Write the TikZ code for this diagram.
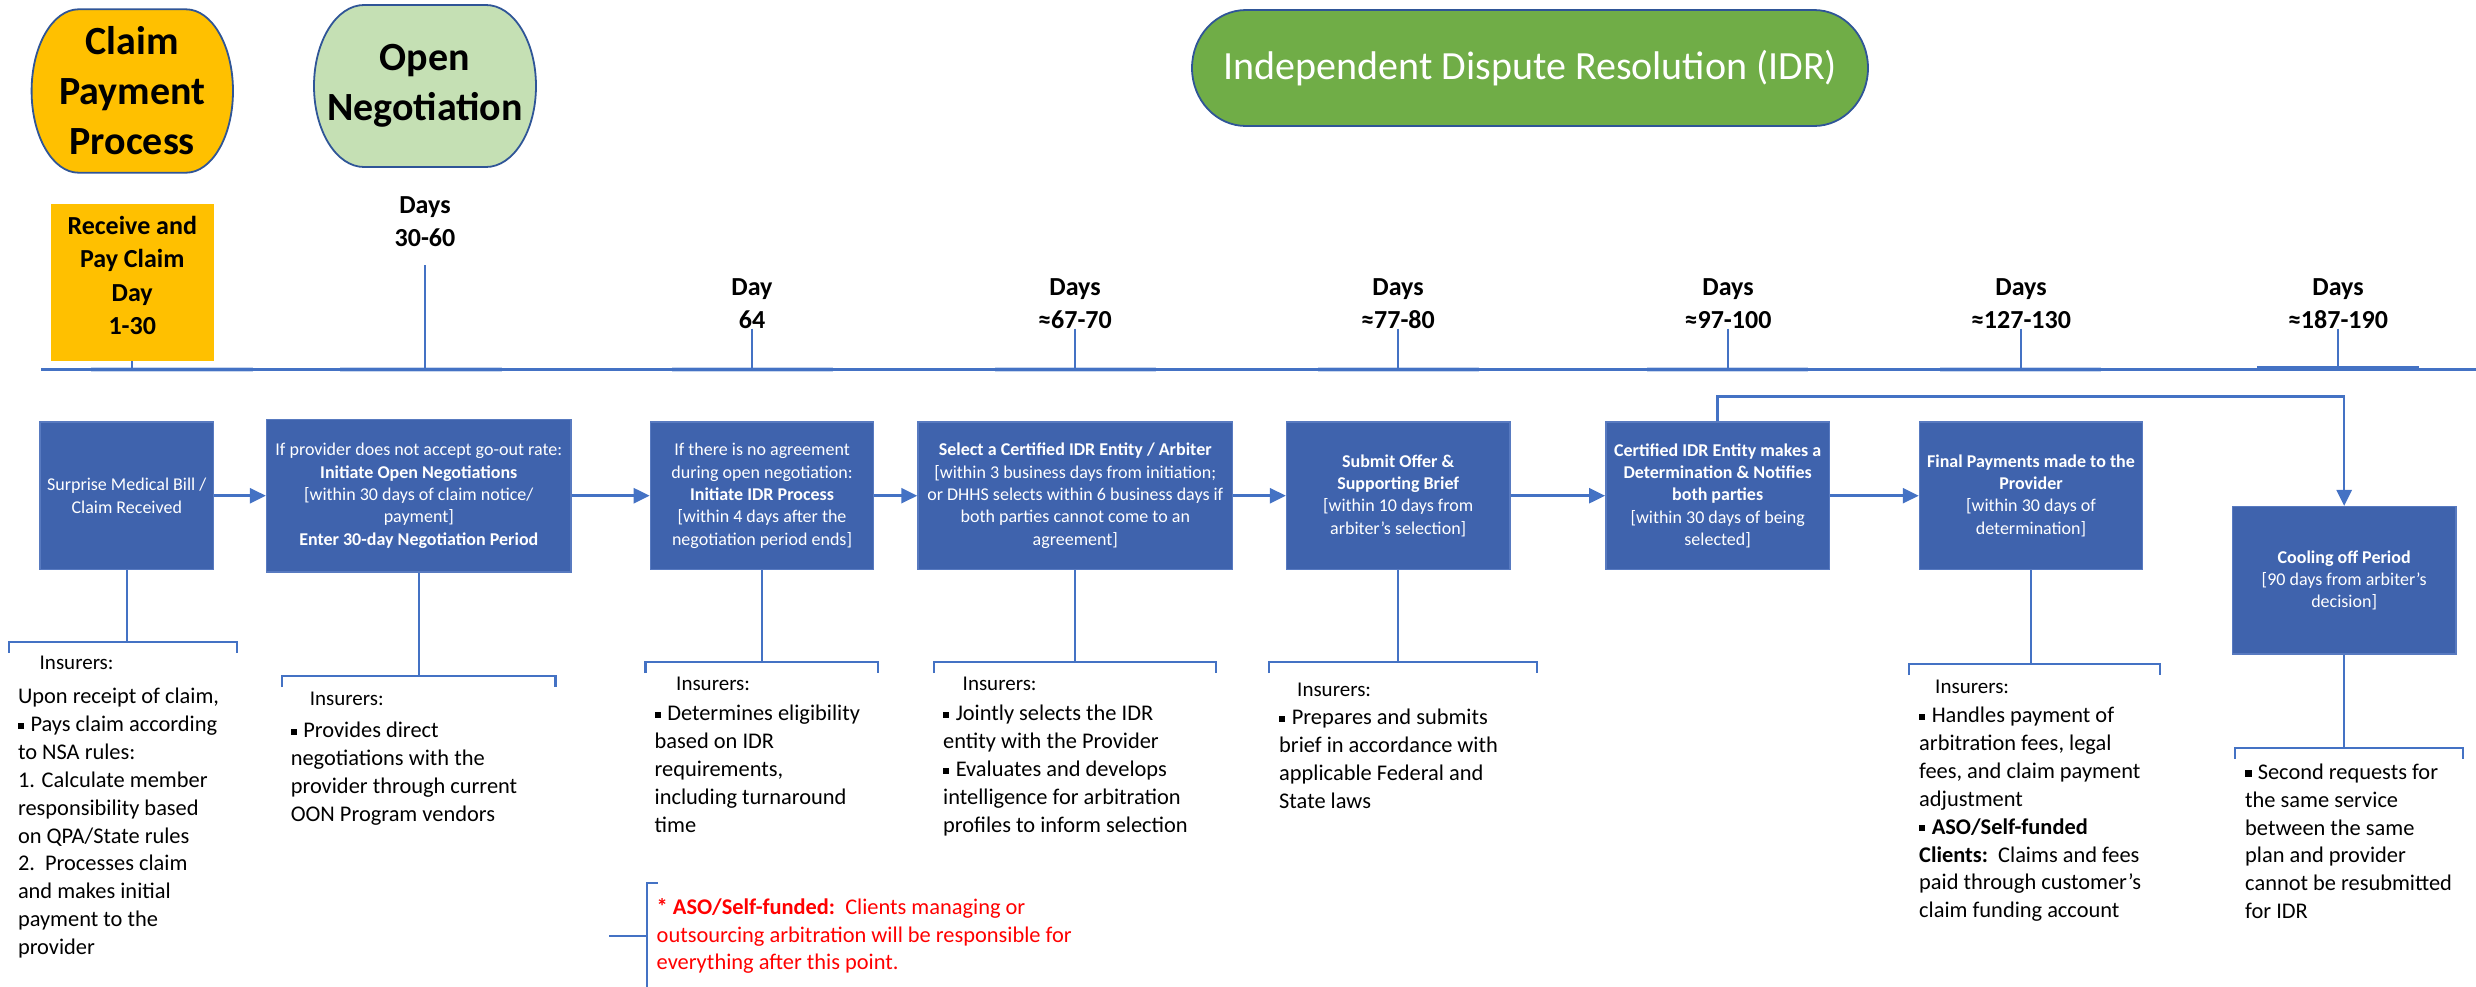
\documentclass[tikz,border=0pt]{standalone}
\usepackage{fontspec}
\setmainfont{Carlito}
\usetikzlibrary{arrows.meta}
\definecolor{boxfill}{RGB}{63,99,173}
\definecolor{boxedge}{RGB}{88,122,192}
\definecolor{lineblue}{RGB}{68,114,196}
\definecolor{pale}{RGB}{200,214,238}
\definecolor{gold}{RGB}{255,192,0}
\definecolor{lgreen}{RGB}{197,224,180}
\definecolor{idrgreen}{RGB}{112,173,71}
\definecolor{ovaledge}{RGB}{47,85,151}
\definecolor{notered}{RGB}{255,0,0}
\newcommand\sqbul{\raisebox{0.12em}{\rule{0.28em}{0.28em}}\hspace{0.28em}}
\tikzset{
  conn/.style={draw=lineblue, line width=2.2pt},
  arr/.style={draw=lineblue, line width=2.6pt, -{Triangle[length=16pt,width=15pt]}},
  bluebox/.style={draw=boxedge, line width=1.5pt, fill=boxfill, text=white, align=center, inner sep=0pt, font=\fontsize{18}{22.3}\selectfont},
  ovalline/.style={draw=ovaledge, line width=1.8pt},
  ovaltxt/.style={align=center, inner sep=0pt, font=\bfseries\fontsize{40}{50}\selectfont},
  daylab/.style={align=center, inner sep=0pt, font=\bfseries\fontsize{26}{33}\selectfont},
  ins/.style={anchor=base west, inner sep=0pt, font=\fontsize{21}{26}\selectfont},
  body/.style={anchor=north west, inner sep=0pt, align=left, font=\fontsize{22.4}{27.9}\selectfont},
  rednote/.style={anchor=north west, inner sep=0pt, align=left, text=notered, font=\fontsize{22.4}{27.3}\selectfont},
}
\begin{document}
\begin{tikzpicture}[x=1pt, y=-1pt]
\useasboundingbox (0,0) rectangle (2476,986);

% ---- header ovals
\path[ovalline, fill=gold] (78.6,9.3) -- (186,9.3)
  arc[start angle=-90, end angle=90, x radius=47, y radius=81.7] -- (78.6,172.7)
  arc[start angle=90, end angle=270, x radius=47, y radius=81.7] -- cycle;
\node[ovaltxt] (cpp) at (132.3,91) {Claim\\Payment\\Process};

\path[ovalline, fill=lgreen] (364,5) -- (486,5)
  arc[start angle=-90, end angle=90, x radius=50, y radius=81] -- (364,167)
  arc[start angle=90, end angle=270, x radius=50, y radius=81] -- cycle;
\node[ovaltxt] (opn) at (425,86) {Open\\Negotiation};

\path[ovalline, fill=idrgreen] (1246,10) -- (1814,10)
  arc[start angle=-90, end angle=90, x radius=54, y radius=58] -- (1246,126)
  arc[start angle=90, end angle=270, x radius=54, y radius=58] -- cycle;
\node[inner sep=0pt, text=white, font=\fontsize{40}{48}\selectfont] (idr) at (1530.5,68) {Independent Dispute Resolution (IDR)};

% ---- timeline
\coordinate (tlL) at (41,369);
\coordinate (tlR) at (2476,369);
\foreach \a/\b in {91/253, 340/502, 672/833, 995/1156, 1318/1479, 1647/1808, 1940/2101}
  \draw[pale, line width=5pt] (\a,369) -- (\b,369);
\draw[lineblue, line width=5pt] (2257,368) -- (2419,368);
\draw[conn, line width=3pt] (tlL) -- (tlR);

\node[fill=gold, minimum width=162.5pt, minimum height=157pt, inner sep=0pt] (rcv) at (132.25,282.5) {};
\node[daylab, font=\bfseries\fontsize{26}{33.5}\selectfont] (rcvt) at (132.25,275.5) {Receive and\\Pay Claim\\Day\\1-30};
\draw[conn] (rcv.south) -- (rcv.south |- tlL);

\node[daylab] (d0) at (425,222) {Days\\30-60};
\node[daylab] (d1) at (752,303.5) {Day\\64};
\node[daylab] (d2) at (1075,303.5) {Days\\≈67-70};
\node[daylab] (d3) at (1398,303.5) {Days\\≈77-80};
\node[daylab] (d4) at (1728,303.5) {Days\\≈97-100};
\node[daylab] (d5) at (2021,303.5) {Days\\≈127-130};
\node[daylab] (d6) at (2338,303.5) {Days\\≈187-190};
\draw[conn] ([yshift=-18pt]d0.south) -- (d0.south |- tlL);
\foreach \n in {d1,d2,d3,d4,d5,d6}
  \draw[conn] (\n.south) -- (\n.south |- tlL);

% ---- process boxes
\node[bluebox, minimum width=173.5pt, minimum height=147.3pt] (b1) at (126.75,495.7)
  {Surprise Medical Bill /\\Claim Received};
\node[bluebox, minimum width=304.4pt, minimum height=152.7pt] (b2) at (418.8,495.7)
  {If provider does not accept go-out rate:\\\textbf{Initiate Open Negotiations}\\{}[within 30 days of claim notice/\\payment]\\\textbf{Enter 30-day Negotiation Period}};
\node[bluebox, minimum width=223.3pt, minimum height=147.3pt] (b3) at (762.05,495.7)
  {If there is no agreement\\during open negotiation:\\\textbf{Initiate IDR Process}\\{}[within 4 days after the\\negotiation period ends]};
\node[bluebox, minimum width=314.6pt, minimum height=147.3pt] (b4) at (1075.3,495.7)
  {\textbf{Select a Certified IDR Entity / Arbiter}\\{}[within 3 business days from initiation;\\or DHHS selects within 6 business days if\\both parties cannot come to an\\agreement]};
\node[bluebox, minimum width=223.2pt, minimum height=147.3pt] (b5) at (1398.2,495.7)
  {\textbf{Submit Offer \&}\\\textbf{Supporting Brief}\\{}[within 10 days from\\arbiter’s selection]};
\node[bluebox, minimum width=223.7pt, minimum height=147.3pt] (b6) at (1717.65,495.7)
  {\textbf{Certified IDR Entity makes a}\\\textbf{Determination \& Notifies}\\\textbf{both parties}\\{}[within 30 days of being\\selected]};
\node[bluebox, minimum width=223pt, minimum height=147.3pt] (b7) at (2031,495.7)
  {\textbf{Final Payments made to the}\\\textbf{Provider}\\{}[within 30 days of\\determination]};
\node[bluebox, minimum width=223.3pt, minimum height=147.3pt] (b8) at (2344.15,580.35)
  {\textbf{Cooling off Period}\\{}[90 days from arbiter’s\\decision]};

\draw[arr] (b1.east) -- (b2.west);
\draw[arr] (b2.east) -- (b3.west);
\draw[arr] (b3.east) -- (b4.west);
\draw[arr] (b4.east) -- (b5.west);
\draw[arr] (b5.east) -- (b6.west);
\draw[arr] (b6.east) -- (b7.west);
\coordinate (loopy) at (0,396.7);
\draw[arr] (b6.north) -- (b6.north |- loopy) -| (b8.north);

% ---- brackets
\coordinate (k1) at (0,641.7);
\coordinate (k2) at (0,676);
\coordinate (k3) at (0,662);
\coordinate (k5) at (0,662.3);
\coordinate (k7) at (0,664);
\coordinate (k8) at (0,747.7);
\draw[conn] (b1.south) -- (b1.south |- k1);
\draw[conn] (b2.south) -- (b2.south |- k2);
\draw[conn] (b3.south) -- (b3.south |- k3);
\draw[conn] (b4.south) -- (b4.south |- k3);
\draw[conn] (b5.south) -- (b5.south |- k5);
\draw[conn] (b7.south) -- (b7.south |- k7);
\draw[conn] (b8.south) -- (b8.south |- k8);
\draw[conn] (8.7,652.7) -- (8.7,641.7) -- (237.2,641.7) -- (237.2,652.7);
\draw[conn] (282,687) -- (282,676) -- (555.5,676) -- (555.5,687);
\draw[conn] (645.5,673) -- (645.5,662) -- (878,662) -- (878,673);
\draw[conn] (934,673) -- (934,662) -- (1216,662) -- (1216,673);
\draw[conn] (1269,673) -- (1269,662.3) -- (1537,662.3) -- (1537,673);
\draw[conn] (1909,675) -- (1909,664) -- (2159.8,664) -- (2159.8,675);
\draw[conn] (2235,758.7) -- (2235,747.7) -- (2462.8,747.7) -- (2462.8,758.7);
% red note bracket
\coordinate (rn) at (647,935.7);
\draw[conn] (657.7,883) -- (647,883) -- (647,990);
\draw[conn] (609,935.7) -- (rn);

% ---- texts
\node[ins] (i1) at (39.5,669.3) {Insurers:};
\node[body] (t1) at (17.8,687.8) {Upon receipt of claim,\\\sqbul Pays claim according\\to NSA rules:\\1. Calculate member\\responsibility based\\on QPA/State rules\\2.\ \ Processes claim\\and makes initial\\payment to the\\provider};
\node[ins] (i2) at (309.6,705) {Insurers:};
\node[body] (t2) at (290.6,721.8) {\sqbul Provides direct\\negotiations with the\\provider through current\\OON Program vendors};
\node[ins] (i3) at (676,690) {Insurers:};
\node[body] (t3) at (654.5,705.2) {\sqbul Determines eligibility\\based on IDR\\requirements,\\including turnaround\\time};
\node[ins] (i4) at (962.5,690) {Insurers:};
\node[body] (t4) at (943,705.2) {\sqbul Jointly selects the IDR\\entity with the Provider\\\sqbul Evaluates and develops\\intelligence for arbitration\\profiles to inform selection};
\node[ins] (i5) at (1297,696.7) {Insurers:};
\node[body] (t5) at (1279,708.8) {\sqbul Prepares and submits\\brief in accordance with\\applicable Federal and\\State laws};
\node[ins] (i7) at (1935,693.3) {Insurers:};
\node[body] (t7) at (1919,706.8) {\sqbul Handles payment of\\arbitration fees, legal\\fees, and claim payment\\adjustment\\\sqbul \textbf{ASO/Self-funded}\\\textbf{Clients:}\ \ Claims and fees\\paid through customer’s\\claim funding account};
\node[body] (t8) at (2245,763.5) {\sqbul Second requests for\\the same service\\between the same\\plan and provider\\cannot be resubmitted\\for IDR};
\node[rednote] (red) at (656.5,898.5) {\textbf{* ASO/Self-funded:}\ \ Clients managing or\\outsourcing arbitration will be responsible for\\everything after this point.};
\end{tikzpicture}
\end{document}
